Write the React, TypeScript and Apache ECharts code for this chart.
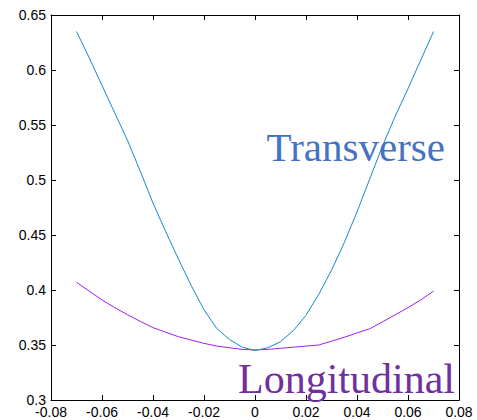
import React, { useEffect, useRef } from "react";
import * as echarts from "echarts";

// Offset positions along the x axis
const offsets = [
  -0.07, -0.065, -0.06, -0.055, -0.05, -0.045, -0.04, -0.035, -0.03, -0.025,
  -0.02, -0.015, -0.01, -0.005, 0, 0.005, 0.01, 0.015, 0.02, 0.025, 0.03,
  0.035, 0.04, 0.045, 0.05, 0.055, 0.06, 0.065, 0.07,
];

const transverse = [
  0.635, 0.611, 0.586, 0.561, 0.536, 0.508, 0.479, 0.453, 0.428, 0.404,
  0.382, 0.365, 0.355, 0.348, 0.345, 0.3475, 0.353, 0.363, 0.377, 0.396,
  0.418, 0.443, 0.471, 0.501, 0.531, 0.558, 0.583, 0.609, 0.635,
];

const longitudinal = [
  0.407, 0.399, 0.391, 0.384, 0.3775, 0.3715, 0.3658, 0.3616, 0.3575, 0.3545,
  0.3515, 0.349, 0.3475, 0.346, 0.3455, 0.346, 0.347, 0.348, 0.349, 0.35,
  0.3535, 0.357, 0.361, 0.3648, 0.371, 0.3775, 0.384, 0.391, 0.399,
];

const xTicks = [-0.08, -0.06, -0.04, -0.02, 0, 0.02, 0.04, 0.06, 0.08];
const yTicks = [0.3, 0.35, 0.4, 0.45, 0.5, 0.55, 0.6, 0.65];

const seriesNames = ["Transverse", "Longitudinal"];

export default function App() {
  const ref = useRef<HTMLDivElement>(null);

  useEffect(() => {
    if (!ref.current) return;
    const chart = echarts.init(ref.current, null, { renderer: "svg" });

    const tickFont = {
      fontFamily: "Liberation Sans, Arial, sans-serif",
      fontSize: 14,
      color: "#000",
    };
    const frameLine = { show: true, onZero: false, lineStyle: { color: "#000", width: 1 } };
    const inTick = { show: true, inside: true, length: 5, lineStyle: { color: "#000", width: 1 } };

    const pair = (ys: number[]) => offsets.map((x, i) => [x, ys[i]]);
    const pick = (list: number[]) => (v: number) => {
      const t = list.find((k) => Math.abs(k - v) < 1e-9);
      return t === undefined ? "" : String(t);
    };

    chart.setOption({
      animation: false,
      backgroundColor: "#fff",
      grid: { left: 51, top: 15, right: 18, bottom: 20, containLabel: false },
      xAxis: [
        {
          type: "value",
          position: "bottom",
          min: xTicks[0],
          max: xTicks[xTicks.length - 1],
          interval: 0.02,
          axisLine: frameLine,
          axisTick: inTick,
          splitLine: { show: false },
          axisLabel: { ...tickFont, margin: 5, formatter: pick(xTicks) },
        },
        {
          type: "value",
          position: "top",
          min: xTicks[0],
          max: xTicks[xTicks.length - 1],
          interval: 0.02,
          axisLine: frameLine,
          axisTick: inTick,
          splitLine: { show: false },
          axisLabel: { show: false },
        },
      ],
      yAxis: [
        {
          type: "value",
          position: "left",
          min: 0.3,
          max: 0.65,
          interval: 0.05,
          axisLine: frameLine,
          axisTick: inTick,
          splitLine: { show: false },
          axisLabel: { ...tickFont, margin: 5, formatter: pick(yTicks) },
        },
        {
          type: "value",
          position: "right",
          min: 0.3,
          max: 0.65,
          interval: 0.05,
          axisLine: frameLine,
          axisTick: inTick,
          splitLine: { show: false },
          axisLabel: { show: false },
        },
      ],
      series: [
        {
          name: seriesNames[0],
          type: "line",
          data: pair(transverse),
          showSymbol: false,
          smooth: false,
          lineStyle: { color: "#1b87c9", width: 1 },
          z: 3,
        },
        {
          name: seriesNames[1],
          type: "line",
          data: pair(longitudinal),
          showSymbol: false,
          smooth: false,
          lineStyle: { color: "#a020f0", width: 1 },
          z: 2,
        },
      ],
      graphic: [
        {
          type: "text",
          right: 477 - 445,
          top: 126,
          z: 10,
          style: {
            text: seriesNames[0],
            fill: "#4472c4",
            font: '41px "Liberation Serif", "Times New Roman", serif',
          },
        },
        {
          type: "text",
          right: 477 - 455,
          top: 358,
          z: 10,
          style: {
            text: seriesNames[1],
            fill: "#7030a0",
            font: '42px "Liberation Serif", "Times New Roman", serif',
          },
        },
      ],
    });

    return () => chart.dispose();
  }, []);

  return <div ref={ref} style={{ width: 477, height: 420, position: "absolute", left: 0, top: 0 }} />;
}
